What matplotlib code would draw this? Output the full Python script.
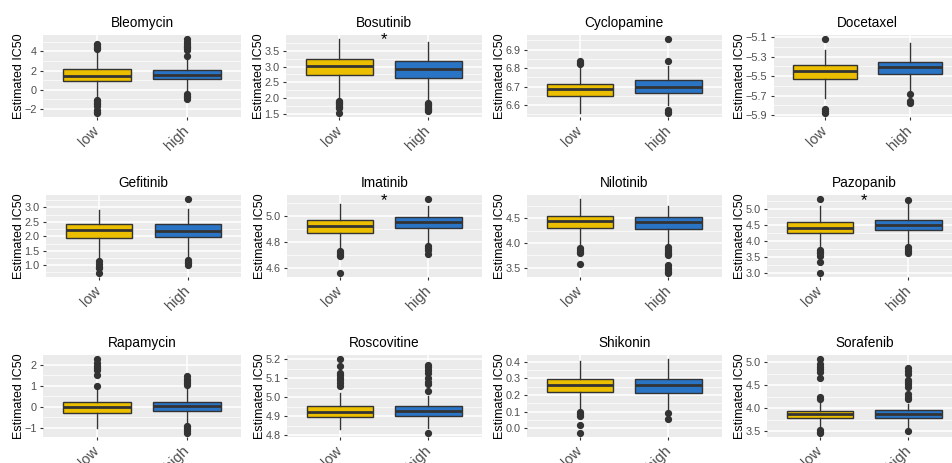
import matplotlib
matplotlib.use("Agg")
import matplotlib.pyplot as plt
from matplotlib.ticker import AutoMinorLocator, FixedLocator

plt.rcParams['font.family'] = ['Liberation Sans', 'DejaVu Sans']

# ── Datos ───────────────────────────────────────────────────────────────────
drugs = ["Bleomycin", "Bosutinib", "Cyclopamine", "Docetaxel",
         "Gefitinib", "Imatinib", "Nilotinib", "Pazopanib",
         "Rapamycin", "Roscovitine", "Shikonin", "Sorafenib"]
groups = ["low", "high"]

# grupo "low"
low_wlo = [-1.0, 1.95, 6.556, -5.72, 1.25, 4.754, 3.98, 3.82, -1.03, 4.834, 0.114, 3.60]
low_q1 = [0.90, 2.72, 6.651, -5.527, 1.94, 4.873, 4.315, 4.25, -0.31, 4.894, 0.218, 3.79]
low_med = [1.46, 3.02, 6.686, -5.444, 2.22, 4.927, 4.44, 4.43, -0.02, 4.92, 0.258, 3.88]
low_q3 = [2.19, 3.24, 6.716, -5.384, 2.42, 4.972, 4.546, 4.60, 0.22, 4.952, 0.294, 3.951]
low_whi = [4.1, 3.88, 6.81, -5.234, 2.90, 5.094, 4.897, 5.10, 0.95, 5.02, 0.404, 4.14]
low_fliers = [
    [-1.1, -1.2, -1.35, -1.5, -1.7, -2.1, -2.3, -2.45, 4.2, 4.35, 4.5, 4.65, 4.8],
    [1.92, 1.88, 1.84, 1.8, 1.76, 1.72, 1.69, 1.52],
    [6.82, 6.828, 6.836],
    [-5.115, -5.84, -5.86, -5.88],
    [1.15, 1.05, 0.95, 0.9, 0.72],
    [4.73, 4.715, 4.70, 4.69, 4.56],
    [3.90, 3.86, 3.83, 3.80, 3.58],
    [5.33, 3.72, 3.66, 3.62, 3.55, 3.35, 3.0],
    [1.0, 1.5, 1.75, 1.85, 1.95, 2.1, 2.3],
    [5.06, 5.075, 5.09, 5.10, 5.115, 5.13, 5.166, 5.203],
    [0.095, 0.085, 0.075, 0.02, -0.03],
    [4.2, 4.25, 4.66, 4.79, 4.85, 4.9, 4.96, 5.07, 3.53, 3.49, 3.46],
]

# grupo "high"
high_wlo = [-0.3, 1.9, 6.60, -5.666, 1.25, 4.78, 3.95, 3.86, -0.85, 4.84, 0.115, 3.60]
high_q1 = [1.08, 2.65, 6.668, -5.48, 1.97, 4.906, 4.275, 4.35, -0.2, 4.903, 0.214, 3.80]
high_med = [1.53, 2.93, 6.70, -5.407, 2.19, 4.954, 4.42, 4.51, 0.03, 4.93, 0.262, 3.88]
high_q3 = [2.01, 3.18, 6.735, -5.35, 2.42, 4.995, 4.526, 4.68, 0.25, 4.952, 0.294, 3.97]
high_whi = [3.4, 3.79, 6.81, -5.16, 2.96, 5.08, 4.745, 5.15, 0.95, 5.007, 0.418, 4.10]
high_fliers = [
    [3.54, 4.1, 4.3, 4.45, 4.6, 4.8, 5.0, 5.31, -0.42, -0.6, -0.8, -0.97],
    [1.86, 1.82, 1.78, 1.74, 1.70, 1.66, 1.62, 1.58],
    [6.836, 6.959, 6.571, 6.565, 6.559],
    [-5.68, -5.75, -5.77],
    [3.30, 1.17, 1.12, 1.07, 1.02],
    [5.134, 4.77, 4.755, 4.74, 4.71],
    [3.92, 3.88, 3.84, 3.80, 3.77, 3.75, 3.55, 3.50, 3.46, 3.42, 3.39],
    [5.29, 3.82, 3.76, 3.70, 3.64],
    [1.05, 1.15, 1.25, 1.35, 1.47, -0.9, -0.98, -1.06, -1.15, -1.27],
    [5.031, 5.07, 5.08, 5.10, 5.13, 5.145, 5.16, 5.17, 4.81],
    [0.09, 0.058],
    [4.2, 4.25, 4.3, 4.47, 4.52, 4.57, 4.61, 4.75, 4.8, 4.86, 3.5],
]

yticks = [
    [-2, 0, 2, 4],
    [1.5, 2.0, 2.5, 3.0, 3.5],
    [6.6, 6.7, 6.8, 6.9],
    [-5.9, -5.7, -5.5, -5.3, -5.1],
    [1.0, 1.5, 2.0, 2.5, 3.0],
    [4.6, 4.8, 5.0],
    [3.5, 4.0, 4.5],
    [3.0, 3.5, 4.0, 4.5, 5.0],
    [-1, 0, 1, 2],
    [4.8, 4.9, 5.0, 5.1, 5.2],
    [0.0, 0.1, 0.2, 0.3, 0.4],
    [3.5, 4.0, 4.5, 5.0],
]
ytick_fmt = ["{:.0f}", "{:.1f}", "{:.1f}", "{:.1f}", "{:.1f}", "{:.1f}",
             "{:.1f}", "{:.1f}", "{:.0f}", "{:.1f}", "{:.1f}", "{:.1f}"]

# fármacos con diferencia significativa (*)
star_drugs = ["Bosutinib", "Imatinib", "Pazopanib"]
star_y = [3.85, 5.116, 5.26]

colors = ["#EBBE00", "#2A74C6"]

# ── Layout (píxeles de la figura original) ──────────────────────────────────
W, H = 952, 463
lefts = [[43, 286, 527, 773.5],
         [46, 287, 527, 767],
         [43, 287, 527, 767]]
rights = [241, 481.5, 721.5, 961.5]
tops = [35, 195, 355]
bottoms = [117, 277, 437]

fig = plt.figure(figsize=(W / 100, H / 100), dpi=100)

for i, drug in enumerate(drugs):
    r, c = divmod(i, 4)
    x0 = lefts[r][c]
    ax = fig.add_axes([x0 / W, 1 - bottoms[r] / H,
                       (rights[c] - x0) / W, (bottoms[r] - tops[r]) / H])
    ax.set_facecolor("#EBEBEB")
    for s in ax.spines.values():
        s.set_visible(False)

    stats = [
        dict(whislo=low_wlo[i], q1=low_q1[i], med=low_med[i], q3=low_q3[i],
             whishi=low_whi[i], fliers=low_fliers[i], label="low"),
        dict(whislo=high_wlo[i], q1=high_q1[i], med=high_med[i], q3=high_q3[i],
             whishi=high_whi[i], fliers=high_fliers[i], label="high"),
    ]
    bp = ax.bxp(stats, positions=[1, 2], widths=0.75, patch_artist=True,
                showcaps=False, manage_ticks=False, zorder=3,
                boxprops=dict(edgecolor="#333333", linewidth=1.0),
                whiskerprops=dict(color="#333333", linewidth=1.0),
                medianprops=dict(color="#333333", linewidth=2.0),
                flierprops=dict(marker="o", markerfacecolor="#333333",
                                markeredgecolor="#333333", markersize=4.2))
    for patch, col in zip(bp["boxes"], colors):
        patch.set_facecolor(col)

    if drug in star_drugs:
        ax.text(1.5, star_y[star_drugs.index(drug)], "*", ha="center",
                va="center", fontsize=12, color="black", zorder=4)

    ax.margins(y=0.05)
    ax.set_xlim(0.4, 2.6)
    ax.set_xticks([1, 2])
    ax.set_xticklabels(groups, rotation=45, ha="right", va="center",
                       rotation_mode="anchor", fontsize=10.5, color="#4D4D4D")
    ax.yaxis.set_major_locator(FixedLocator(yticks[i]))
    ax.set_yticklabels([ytick_fmt[i].format(v).replace("-", "\u2212")
                        for v in yticks[i]], fontsize=7.8, color="#4D4D4D")
    ax.yaxis.set_minor_locator(AutoMinorLocator(2))
    ax.tick_params(axis="both", which="major", length=2.5, width=0.8,
                   color="#333333", pad=2)
    ax.tick_params(axis="y", which="minor", length=0)
    ax.tick_params(axis="x", pad=6)
    ax.grid(True, which="major", color="white", linewidth=1.1, zorder=0)
    ax.grid(True, which="minor", axis="y", color="white", linewidth=0.5, zorder=0)
    ax.set_axisbelow(True)
    ax.set_title(drug, fontsize=9.8, pad=6)
    ax.set_ylabel("Estimated IC50", fontsize=9, labelpad=-0.5)

fig.savefig("out.png", dpi=100)
